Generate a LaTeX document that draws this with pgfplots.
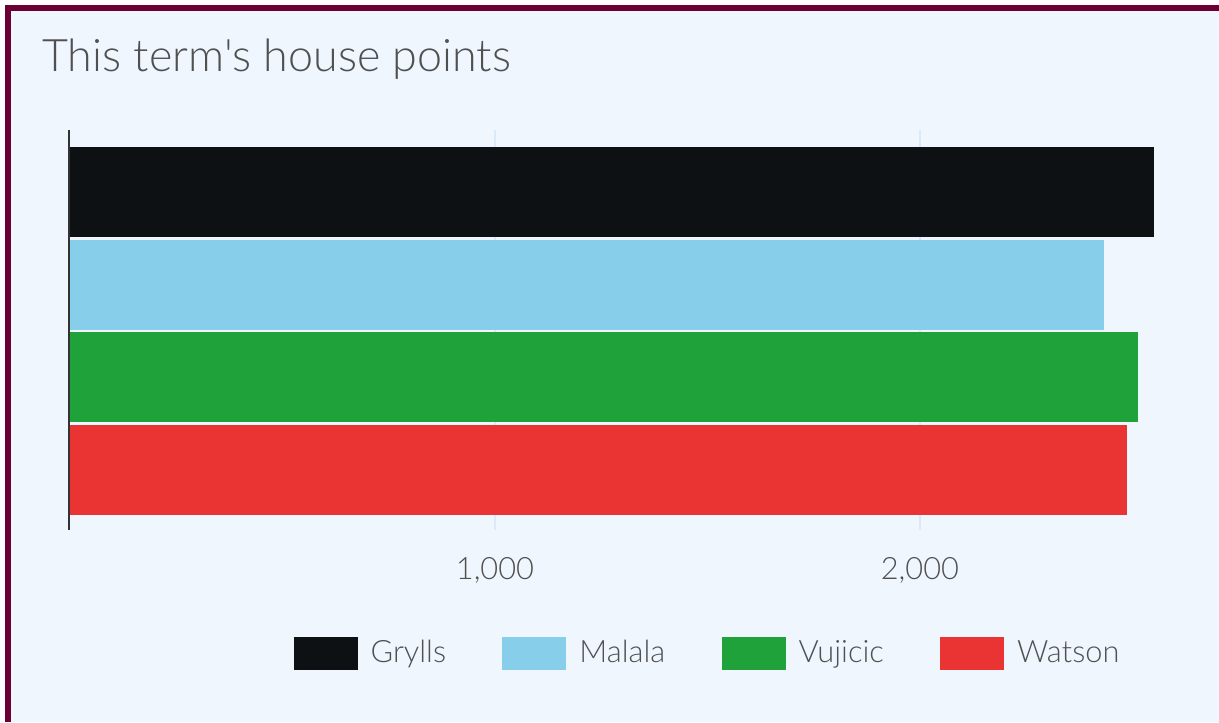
\documentclass[border=0pt]{standalone}
\usepackage{pgfplots}
\pgfplotsset{compat=1.18}
\usepackage{fontspec}
\setmainfont{Lato Light}
\newfontfamily\titlefont{Lato Light}[Ligatures=TeXOff]
\definecolor{bgc}{HTML}{EFF6FE}
\definecolor{frame}{HTML}{6B0033}
\definecolor{cblack}{HTML}{0E1113}
\definecolor{csky}{HTML}{87CEEB}
\definecolor{cgreen}{HTML}{1FA23A}
\definecolor{cred}{HTML}{EA3333}
\definecolor{gridc}{HTML}{DCE9F8}
\definecolor{txt}{HTML}{505050}
\begin{document}
\begin{tikzpicture}
\fill[white] (0,0) rectangle (609.5pt,361pt);
\fill[frame] (2.5pt,0) rectangle (609.5pt,358.5pt);
\fill[bgc] (5.35pt,0) rectangle (609.5pt,355.5pt);
\node[anchor=base west, inner sep=0pt, text=txt, font=\titlefont\fontsize{22.4}{27}\selectfont] at (21pt,325pt) {This term's house points};
\begin{axis}[
  at={(34.575pt,96pt)}, anchor=south west,
  scale only axis, width=561.4pt, height=200pt,
  xmin=-2, xmax=2640, ymin=-0.652, ymax=3.673,
  xbar, bar shift=0pt, bar width=0.975,
  axis y line*=left, axis x line*=bottom,
  x axis line style={draw=none},
  y axis line style={color=black!80, line width=1pt},
  ytick=\empty,
  xtick={1000,2000}, major tick length=0pt,
  xmajorgrids, grid style={color=gridc, line width=0.8pt},
  /pgf/number format/assume math mode=true,
  /pgf/number format/1000 sep={,},
  xticklabel style={anchor=base, yshift=-25pt, text=txt, font=\fontsize{15.4}{18}\selectfont},
  legend columns=4,
  legend image code/.code={\fill[#1,draw=none] (0pt,-8.25pt) rectangle (32pt,8.25pt);},
  legend style={at={(axis description cs:0.1996,-0.3075)}, anchor=west, draw=none, fill=none, inner sep=0pt,
    nodes={inner sep=0pt, text=txt}, font=\fontsize{15.4}{18}\selectfont,
    /tikz/every odd column/.append style={column sep=6.5pt},
    /tikz/every even column/.append style={column sep=28.2pt}},
]
\addplot[fill=cblack, draw=none] coordinates {(2551,3)};
\addlegendentry{Grylls}
\addplot[fill=csky, draw=none] coordinates {(2433,2)};
\addlegendentry{Malala}
\addplot[fill=cgreen, draw=none] coordinates {(2514,1)};
\addlegendentry{Vujicic}
\addplot[fill=cred, draw=none] coordinates {(2487,0)};
\addlegendentry{Watson}
\end{axis}
\end{tikzpicture}
\end{document}
